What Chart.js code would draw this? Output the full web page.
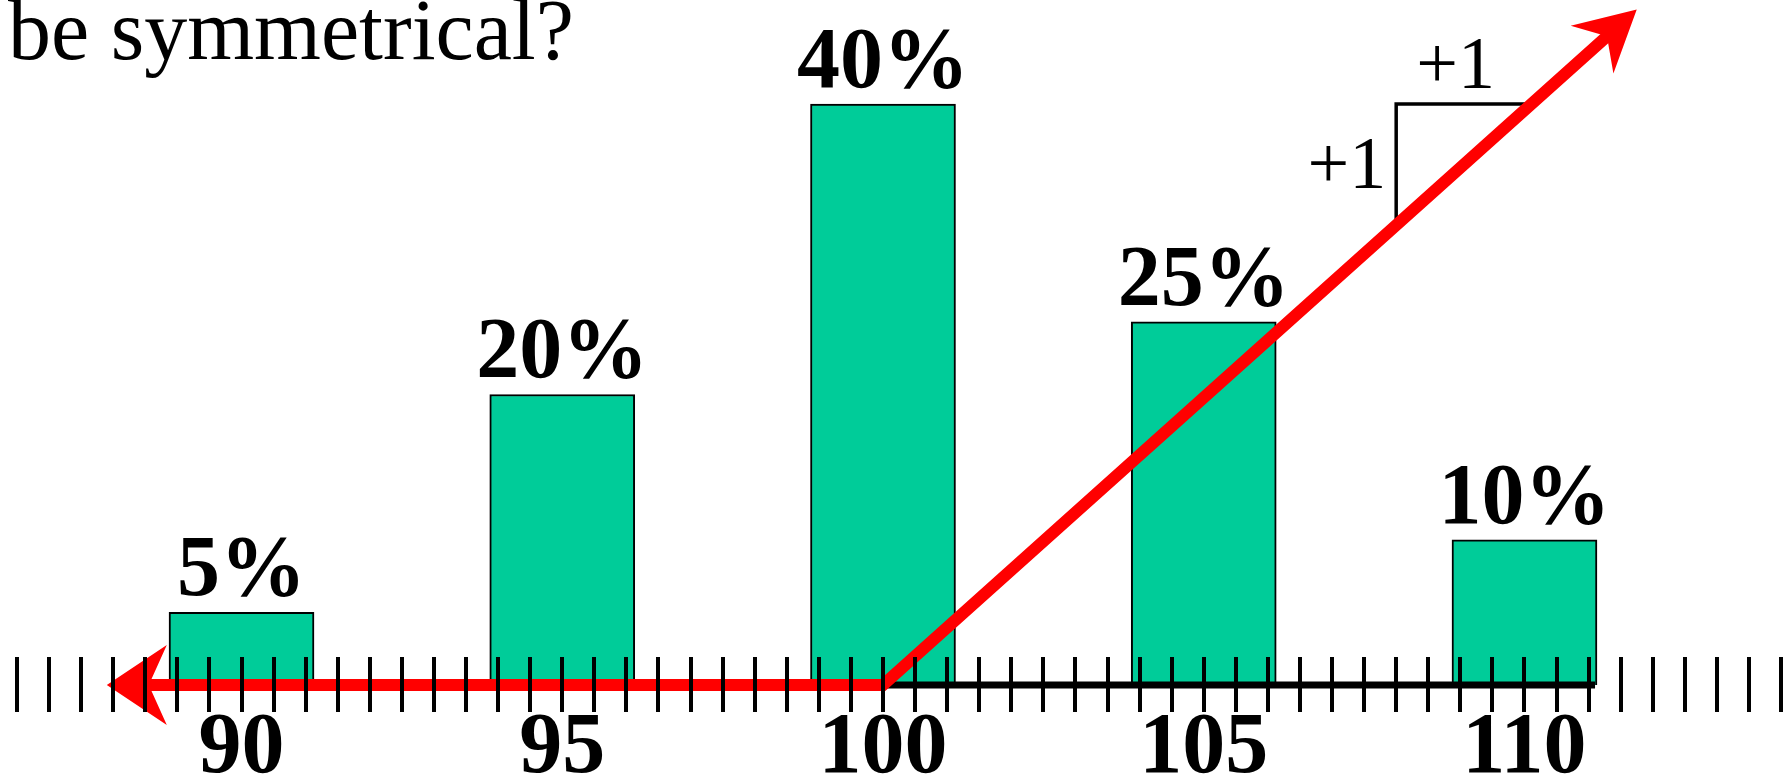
<!DOCTYPE html>
<html>
<head>
<meta charset="utf-8">
<script src="https://cdn.jsdelivr.net/npm/chart.js@4"></script>
<style>
  html, body { margin: 0; padding: 0; background: #fff; }
  #wrap { width: 1788px; height: 776px; }
</style>
</head>
<body>
<div id="wrap"><canvas id="chart" width="1788" height="776"></canvas></div>
<script>
// outcomes and their probabilities (%)
const outcomes = [90, 95, 100, 105, 110];
const probs = [5, 20, 40, 25, 10];
const tickLabels = ["90", "95", "100", "105", "110"];
const titleText = "be symmetrical?";

// red arrow: left tip, kink at 100, upper-right tip
const arrowX = [87.9, 100, 111.75];
const arrowY = [0, 0, 46.5];
// black axis to the right of 100
const axisX = [100, 111.1];
// slope triangle (x of the vertical side, x end of the top side; y bottom, y top)
const triX = [108, 110.1];
const triY = [32, 40];
const triLabels = ["+1", "+1"];

// small ticks every half unit
const minorTicks = [];
for (let v = 86.5; v <= 114; v += 0.5) minorTicks.push(v);

const serif = "'Liberation Serif', 'Times New Roman', serif";

function arrowHead(ctx, tip, from, len, half, notch) {
  const dx = tip[0] - from[0], dy = tip[1] - from[1];
  const d = Math.hypot(dx, dy);
  const ux = dx / d, uy = dy / d;
  const px = -uy, py = ux;
  ctx.beginPath();
  ctx.moveTo(tip[0], tip[1]);
  ctx.lineTo(tip[0] - ux * len + px * half, tip[1] - uy * len + py * half);
  ctx.lineTo(tip[0] - ux * notch, tip[1] - uy * notch);
  ctx.lineTo(tip[0] - ux * len - px * half, tip[1] - uy * len - py * half);
  ctx.closePath();
  ctx.fill();
}

const overlay = {
  id: "overlay",
  afterDatasetsDraw(chart) {
    const { ctx, scales: { x, y } } = chart;
    const y0 = y.getPixelForValue(0);
    ctx.save();

    // black axis segment
    ctx.strokeStyle = "#000";
    ctx.lineWidth = 7;
    ctx.beginPath();
    ctx.moveTo(x.getPixelForValue(axisX[0]), y0);
    ctx.lineTo(x.getPixelForValue(axisX[1]), y0);
    ctx.stroke();

    // slope triangle
    const tx = x.getPixelForValue(triX[0]);
    const hx = x.getPixelForValue(triX[1]);
    const ty = y.getPixelForValue(triY[1]);
    ctx.lineWidth = 3.5;
    ctx.lineCap = "square";
    ctx.beginPath();
    ctx.moveTo(tx, y.getPixelForValue(triY[0]));
    ctx.lineTo(tx, ty);
    ctx.lineTo(hx, ty);
    ctx.stroke();
    ctx.lineCap = "butt";

    // red arrow
    const pts = arrowX.map((v, i) => [x.getPixelForValue(v), y.getPixelForValue(arrowY[i])]);
    const n = pts.length;
    const shorten = (a, b, s) => {
      const dx = a[0] - b[0], dy = a[1] - b[1], d = Math.hypot(dx, dy);
      return [a[0] - dx / d * s, a[1] - dy / d * s];
    };
    const start = shorten(pts[0], pts[1], 40);
    const end = shorten(pts[n - 1], pts[n - 2], 38);
    ctx.strokeStyle = "#ff0000";
    ctx.fillStyle = "#ff0000";
    ctx.lineWidth = 12;
    ctx.lineJoin = "miter";
    ctx.beginPath();
    ctx.moveTo(start[0], start[1]);
    for (let i = 1; i < n - 1; i++) ctx.lineTo(pts[i][0], pts[i][1]);
    ctx.lineTo(end[0], end[1]);
    ctx.stroke();
    arrowHead(ctx, pts[0], pts[1], 60, 40, 42);
    arrowHead(ctx, pts[n - 1], pts[n - 2], 60, 32, 40);

    // half-unit ticks across the axis
    ctx.strokeStyle = "#000";
    ctx.lineWidth = 4;
    ctx.beginPath();
    minorTicks.forEach(v => {
      const px = Math.round(x.getPixelForValue(v));
      ctx.moveTo(px, y0 - 28);
      ctx.lineTo(px, y0 + 27);
    });
    ctx.stroke();

    // outcome labels
    ctx.fillStyle = "#000";
    ctx.textAlign = "center";
    ctx.textBaseline = "alphabetic";
    ctx.font = "bold 86px " + serif;
    outcomes.forEach((v, i) => {
      ctx.fillText(tickLabels[i], x.getPixelForValue(v), y0 + 87);
    });

    // probability labels above bars
    const meta = chart.getDatasetMeta(0);
    meta.data.forEach((bar, i) => {
      ctx.fillText(probs[i] + "%", bar.x, bar.y - 17);
    });

    // slope labels
    ctx.font = "74px " + serif;
    ctx.fillText(triLabels[0], (tx + hx) / 2 - 8, ty - 16);
    ctx.textAlign = "right";
    ctx.fillText(triLabels[1], tx - 10, ty + 84);

    // heading text
    ctx.textAlign = "left";
    ctx.font = "86px " + serif;
    ctx.fillText(titleText, 8, 59);

    ctx.restore();
  }
};

new Chart(document.getElementById("chart"), {
  type: "bar",
  data: {
    datasets: [{
      data: outcomes.map((v, i) => ({ x: v, y: probs[i] })),
      backgroundColor: "#00cc99",
      borderColor: "#000",
      borderWidth: 2,
      borderSkipped: "start",
      barThickness: 145
    }]
  },
  options: {
    responsive: false,
    devicePixelRatio: 1,
    animation: false,
    layout: { padding: 0 },
    plugins: {
      legend: { display: false },
      tooltip: { enabled: false }
    },
    scales: {
      x: { type: "linear", display: false, offset: false, min: 86.235, max: 114.108 },
      y: { display: false, min: -6.265, max: 47.16 }
    }
  },
  plugins: [overlay]
});
</script>
</body>
</html>
